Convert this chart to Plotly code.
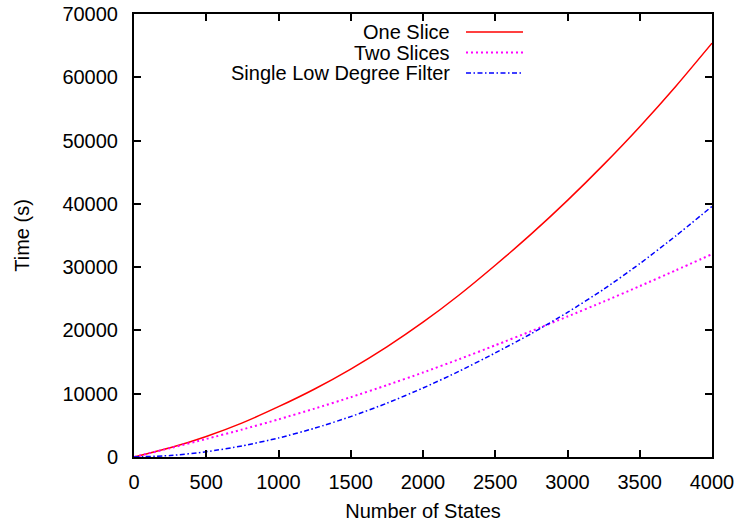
import plotly.graph_objects as go

# ---- data ----
states = [0, 250, 500, 750, 1000, 1250, 1500, 1750, 2000, 2250, 2500, 2750, 3000, 3250, 3500, 3750, 4000]
one_slice = [0, 1450, 3250, 5400, 7950, 10750, 13900, 17400, 21300, 25600, 30300, 35250, 40550, 46200, 52200, 58600, 65400]
two_slices = [0, 1400, 2850, 4350, 5950, 7650, 9450, 11350, 13350, 15450, 17650, 19900, 22200, 24550, 27000, 29500, 32050]
low_degree = [0, 230, 830, 1760, 3000, 4550, 6380, 8500, 10900, 13550, 16450, 19500, 22850, 26500, 30550, 34950, 39600]

series_names = ["One Slice", "Two Slices", "Single Low Degree Filter"]
series_values = [one_slice, two_slices, low_degree]
series_colors = ["#ff0000", "#ff00ff", "#0000ff"]
series_dash = ["solid", "2px,3px", "5px,2.5px,1.5px,2.5px"]
series_width = [1.5, 2, 1.5]

x_ticks = list(range(0, 4001, 500))
y_ticks = list(range(0, 70001, 10000))

FONT = "Liberation Sans, Arial, sans-serif"

fig = go.Figure()
for name, vals, col, dash, w in zip(series_names, series_values, series_colors, series_dash, series_width):
    fig.add_trace(go.Scatter(x=states, y=vals, mode="lines", name=name,
                             line=dict(color=col, dash=dash, width=w, shape="spline", smoothing=0.6)))

# gnuplot-style key: right-aligned text with line sample to its right
key_text_right = 451.7
key_line_x0, key_line_x1 = 466, 523
key_rows = [32, 52.5, 73]
W, H = 741, 522
ml, mr, mt, mb = 134, 29, 14, 65
pw, ph = W - ml - mr, H - mt - mb

def px_to_paper(x, y):
    return (x - ml) / pw, 1 - (y - mt) / ph

for name, col, dash, w, ry in zip(series_names, series_colors, series_dash, series_width, key_rows):
    tx, ty = px_to_paper(key_text_right, ry)
    fig.add_annotation(x=tx, y=ty, xref="paper", yref="paper", text=name, showarrow=False,
                       xanchor="right", yanchor="middle", font=dict(size=20, color="black", family=FONT))
    x0, y0 = px_to_paper(key_line_x0, ry)
    x1, _ = px_to_paper(key_line_x1, ry)
    fig.add_shape(type="line", xref="paper", yref="paper", x0=x0, x1=x1, y0=y0, y1=y0,
                  line=dict(color=col, dash=dash, width=w))

axis_common = dict(showline=True, linecolor="black", linewidth=2, mirror="allticks",
                   ticks="inside", ticklen=7, tickwidth=2, tickcolor="black",
                   showgrid=False, zeroline=False, automargin=False,
                   tickfont=dict(size=20, color="black", family=FONT),
                   title_font=dict(size=20, color="black", family=FONT))

fig.update_xaxes(range=[0, 4000], tickvals=x_ticks, ticktext=[str(v) for v in x_ticks],
                 title_text="Number of States", title_standoff=12, ticklabelstandoff=6, **axis_common)
fig.update_yaxes(range=[0, 70000], tickvals=y_ticks, ticktext=[str(v) for v in y_ticks],
                 title_text="Time (s)", title_standoff=27, ticklabelstandoff=10, **axis_common)

fig.update_layout(width=W, height=H, margin=dict(l=ml, r=mr, t=mt, b=mb, autoexpand=False),
                  plot_bgcolor="white", paper_bgcolor="white", showlegend=False,
                  font=dict(family=FONT, color="black"))

fig.write_html("out.html")
